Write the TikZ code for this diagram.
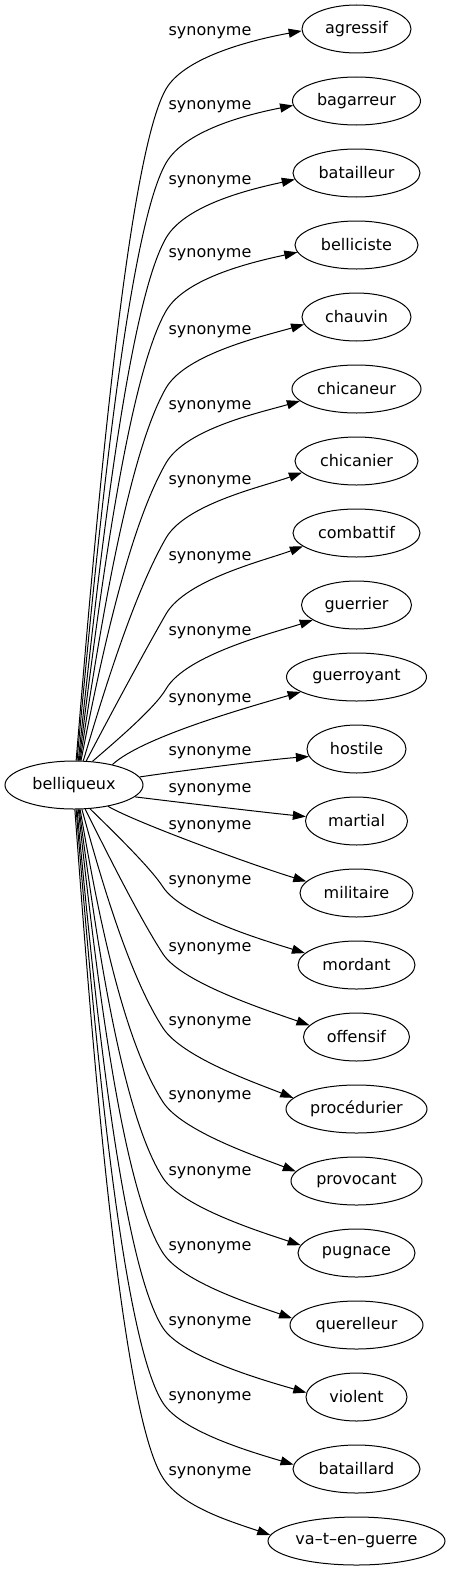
\documentclass[tikz,border=0pt]{standalone}
\usepackage{fontspec}
\setmainfont{DejaVu Sans}
\usetikzlibrary{shapes.geometric,arrows.meta}
\begin{document}
\begin{tikzpicture}[x=1pt,y=-1pt,
  ell/.style={ellipse,draw,line width=1pt,inner sep=0pt,minimum height=48pt,minimum width=#1,font=\fontsize{16}{19}\selectfont},
  lbl/.style={inner sep=0pt,font=\fontsize{16}{19}\selectfont},
  edge/.style={draw,line width=1pt,-{Triangle[length=13pt,width=9pt]}}]
\fill[white] (0,0) rectangle (450,1571);
\useasboundingbox (0,0) rectangle (450,1571);
\node[ell=138] (bel) at (74,785) {\makebox[0pt]{belliqueux}};
\node[ell=109] (agressif) at (356.5,29) {\makebox[0pt]{agressif}};
\node[ell=128] (bagarreur) at (356.5,101) {\makebox[0pt]{bagarreur}};
\node[ell=127] (batailleur) at (356.5,173) {\makebox[0pt]{batailleur}};
\node[ell=123] (belliciste) at (356.5,245) {\makebox[0pt]{belliciste}};
\node[ell=109] (chauvin) at (356.5,317) {\makebox[0pt]{chauvin}};
\node[ell=129] (chicaneur) at (356.5,389) {\makebox[0pt]{chicaneur}};
\node[ell=123] (chicanier) at (356.5,461) {\makebox[0pt]{chicanier}};
\node[ell=127] (combattif) at (356.5,533) {\makebox[0pt]{combattif}};
\node[ell=110] (guerrier) at (356.5,605) {\makebox[0pt]{guerrier}};
\node[ell=140] (guerroyant) at (356.5,677) {\makebox[0pt]{guerroyant}};
\node[ell=99] (hostile) at (356.5,749) {\makebox[0pt]{hostile}};
\node[ell=102] (martial) at (356.5,821) {\makebox[0pt]{martial}};
\node[ell=113] (militaire) at (356.5,893) {\makebox[0pt]{militaire}};
\node[ell=117] (mordant) at (356.5,965) {\makebox[0pt]{mordant}};
\node[ell=106] (offensif) at (356.5,1037) {\makebox[0pt]{offensif}};
\node[ell=141] (procedurier) at (356.5,1109) {\makebox[0pt]{procédurier}};
\node[ell=131] (provocant) at (356.5,1181) {\makebox[0pt]{provocant}};
\node[ell=117] (pugnace) at (356.5,1253) {\makebox[0pt]{pugnace}};
\node[ell=133] (querelleur) at (356.5,1325) {\makebox[0pt]{querelleur}};
\node[ell=101] (violent) at (356.5,1397) {\makebox[0pt]{violent}};
\node[ell=127] (bataillard) at (356.5,1469) {\makebox[0pt]{bataillard}};
\node[ell=177] (vatenguerre) at (356.5,1541) {\makebox[0pt]{va--t--en--guerre}};
\node[lbl] (l0) at (210,33) {synonyme};
\node[lbl] (l1) at (210,107) {synonyme};
\node[lbl] (l2) at (210,182) {synonyme};
\node[lbl] (l3) at (210,255) {synonyme};
\node[lbl] (l4) at (210,332) {synonyme};
\node[lbl] (l5) at (210,407) {synonyme};
\node[lbl] (l6) at (210,482) {synonyme};
\node[lbl] (l7) at (210,558) {synonyme};
\node[lbl] (l8) at (210,633) {synonyme};
\node[lbl] (l9) at (210,700) {synonyme};
\node[lbl] (l10) at (210,753) {synonyme};
\node[lbl] (l11) at (210,790) {synonyme};
\node[lbl] (l12) at (210,827) {synonyme};
\node[lbl] (l13) at (210,882) {synonyme};
\node[lbl] (l14) at (210,949) {synonyme};
\node[lbl] (l15) at (210,1023) {synonyme};
\node[lbl] (l16) at (210,1097) {synonyme};
\node[lbl] (l17) at (210,1173) {synonyme};
\node[lbl] (l18) at (210,1248) {synonyme};
\node[lbl] (l19) at (210,1323) {synonyme};
\node[lbl] (l20) at (210,1398) {synonyme};
\node[lbl] (l21) at (210,1473) {synonyme};
\draw[edge] (bel.85) .. controls +(17.5,-211.3) and +(-40,69.3) .. (166,89) .. controls +(20,-34.6) and +(-39.4,7.1) .. (agressif.182);
\draw[edge] (bel.83) .. controls +(17.2,-185.4) and +(-40,69.3) .. (166,163) .. controls +(20,-34.6) and +(-39.2,7.8) .. (bagarreur.184);
\draw[edge] (bel.80) .. controls +(16.8,-159.1) and +(-40,69.3) .. (166,238) .. controls +(20,-34.6) and +(-39.1,8.6) .. (batailleur.186);
\draw[edge] (bel.78) .. controls +(16.5,-133.6) and +(-40,69.3) .. (166,311) .. controls +(20,-34.6) and +(-39.1,8.6) .. (belliciste.187);
\draw[edge] (bel.76) .. controls +(16.1,-106.6) and +(-40,69.3) .. (166,388) .. controls +(20,-34.6) and +(-38.4,11.2) .. (chauvin.188);
\draw[edge] (bel.74) .. controls +(15.8,-80.4) and +(-40,69.3) .. (166,463) .. controls +(20,-34.6) and +(-38.4,11.2) .. (chicaneur.192);
\draw[edge] (bel.69) .. controls +(17.3,-58.2) and +(-33.6,58.2) .. (166,538) .. controls +(20,-34.6) and +(-37.6,13.7) .. (chicanier.192);
\draw[edge] (bel.63) .. controls +(20.2,-38.7) and +(-22.2,38.5) .. (166,614) .. controls +(20,-34.6) and +(-37.5,13.9) .. (combattif.194);
\draw[edge] (bel.52) .. controls +(22,-19) and +(-11,19) .. (166,689) .. controls +(20,-34.6) and +(-38,12.4) .. (guerrier.199);
\draw[edge] (bel.28) .. controls +(30,-28) and +(-48,14) .. (guerroyant.195);
\draw[edge] (bel.7) .. controls +(40,-6) and +(-40,3) .. (hostile.189);
\draw[edge] (bel.-11) .. controls +(40,5) and +(-40,-4) .. (martial.175);
\draw[edge] (bel.-32) .. controls +(27,16) and +(-50,-15) .. (militaire.167);
\draw[edge] (bel.-56) .. controls +(21,20.6) and +(-12.9,-19.9) .. (163,887) .. controls +(19.1,29.4) and +(-38.2,-11.9) .. (mordant.167);
\draw[edge] (bel.-65) .. controls +(18.9,38) and +(-23.9,-36.8) .. (163,954) .. controls +(19.1,29.4) and +(-37.7,-13.4) .. (offensif.166);
\draw[edge] (bel.-72) .. controls +(15.8,57.3) and +(-36,-55.4) .. (163,1028) .. controls +(19.1,29.4) and +(-37.1,-14.8) .. (procedurier.170);
\draw[edge] (bel.-76) .. controls +(13.8,79.1) and +(-43.6,-67.2) .. (163,1102) .. controls +(19.1,29.4) and +(-37.3,-14.4) .. (provocant.171);
\draw[edge] (bel.-78) .. controls +(14.1,105.6) and +(-43.6,-67.2) .. (163,1178) .. controls +(19.1,29.4) and +(-38,-12.6) .. (pugnace.172);
\draw[edge] (bel.-80) .. controls +(14.5,131.9) and +(-43.6,-67.2) .. (163,1253) .. controls +(19.1,29.4) and +(-37.7,-13.2) .. (querelleur.174);
\draw[edge] (bel.-83) .. controls +(14.8,158.1) and +(-43.6,-67.2) .. (163,1328) .. controls +(19.1,29.4) and +(-38.4,-11.1) .. (violent.175);
\draw[edge] (bel.-85) .. controls +(15.2,184.4) and +(-43.6,-67.2) .. (163,1403) .. controls +(19.1,29.4) and +(-38.3,-11.5) .. (bataillard.176);
\draw[edge] (bel.-88) .. controls +(15.5,210.6) and +(-43.6,-67.2) .. (163,1478) .. controls +(19.1,29.4) and +(-37.8,-13) .. (vatenguerre.176);
\end{tikzpicture}
\end{document}
